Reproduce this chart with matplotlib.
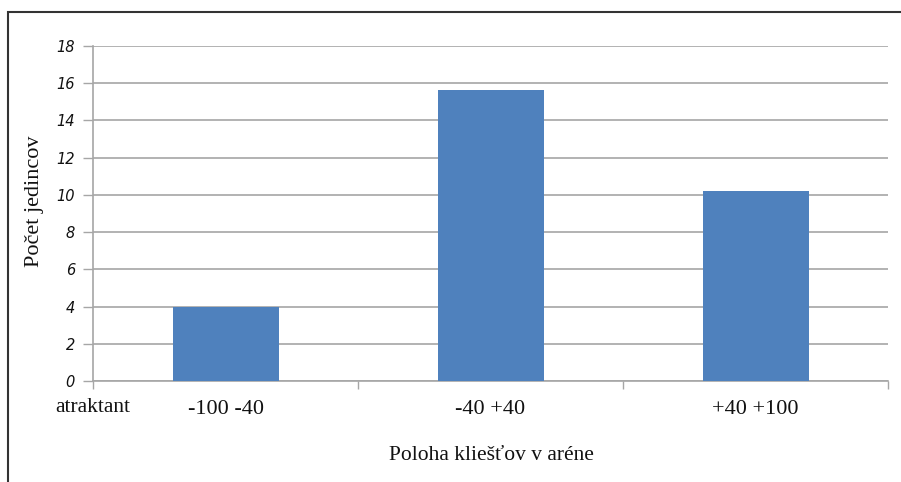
import matplotlib.pyplot as plt
from matplotlib.patches import Rectangle

# data
categories = ['-100 -40', '-40 +40', '+40 +100']
counts = [4.0, 15.65, 10.2]
y_ticks = [0, 2, 4, 6, 8, 10, 12, 14, 16, 18]

bar_color = '#4f81bd'
grid_color = '#a6a6a6'

fig = plt.figure(figsize=(9.01, 4.82), dpi=100)
ax = fig.add_axes([93 / 901, 1 - 381 / 482, 795 / 901, 335 / 482])

x = list(range(len(categories)))
ax.bar(x, counts, width=0.4, color=bar_color, zorder=3)

ax.set_xlim(-0.5, len(categories) - 0.5)
ax.set_ylim(0, 18)
ax.set_yticks(y_ticks)
ax.set_yticklabels([str(t) for t in y_ticks], fontstyle='italic',
                   fontfamily='DejaVu Sans', fontsize=10.5, color='#111111')
ax.yaxis.grid(True, color=grid_color, linewidth=1.2, zorder=0)
ax.tick_params(axis='y', length=7, width=1.0, color=grid_color, pad=6)

# category labels between boundary ticks
ax.set_xticks([i - 0.5 for i in range(len(categories) + 1)])
ax.set_xticklabels([])
ax.tick_params(axis='x', length=6, width=1.0, color=grid_color)
for i, c in enumerate(categories):
    ax.text(i, -1.52, c, ha='center', va='center', fontsize=16,
            fontfamily='Liberation Serif', color='#111111')
ax.text(-0.5, -1.4, 'atraktant', ha='center', va='center', fontsize=15.5,
        fontfamily='Liberation Serif', color='#111111')

for side in ['top', 'right']:
    ax.spines[side].set_visible(False)
ax.spines['left'].set_color(grid_color)
ax.spines['bottom'].set_color(grid_color)
ax.spines['left'].set_linewidth(1.2)
ax.spines['bottom'].set_linewidth(1.2)

fig.text(34 / 901, 1 - 201 / 482, 'Počet jedincov', rotation=90, ha='center',
         va='center', fontsize=16, fontfamily='Liberation Serif', color='#111111')
fig.text(491 / 901, 1 - 455 / 482, 'Poloha kliešťov v aréne', ha='center',
         va='center', fontsize=15.5, fontfamily='Liberation Serif', color='#111111')

# outer chart frame
fig.patches.append(Rectangle((8 / 901, -0.1), 1.0, 1 - 12 / 482 + 0.1,
                             transform=fig.transFigure, fill=False,
                             edgecolor='#333333', linewidth=1.5))

fig.savefig('out.png', dpi=100)
